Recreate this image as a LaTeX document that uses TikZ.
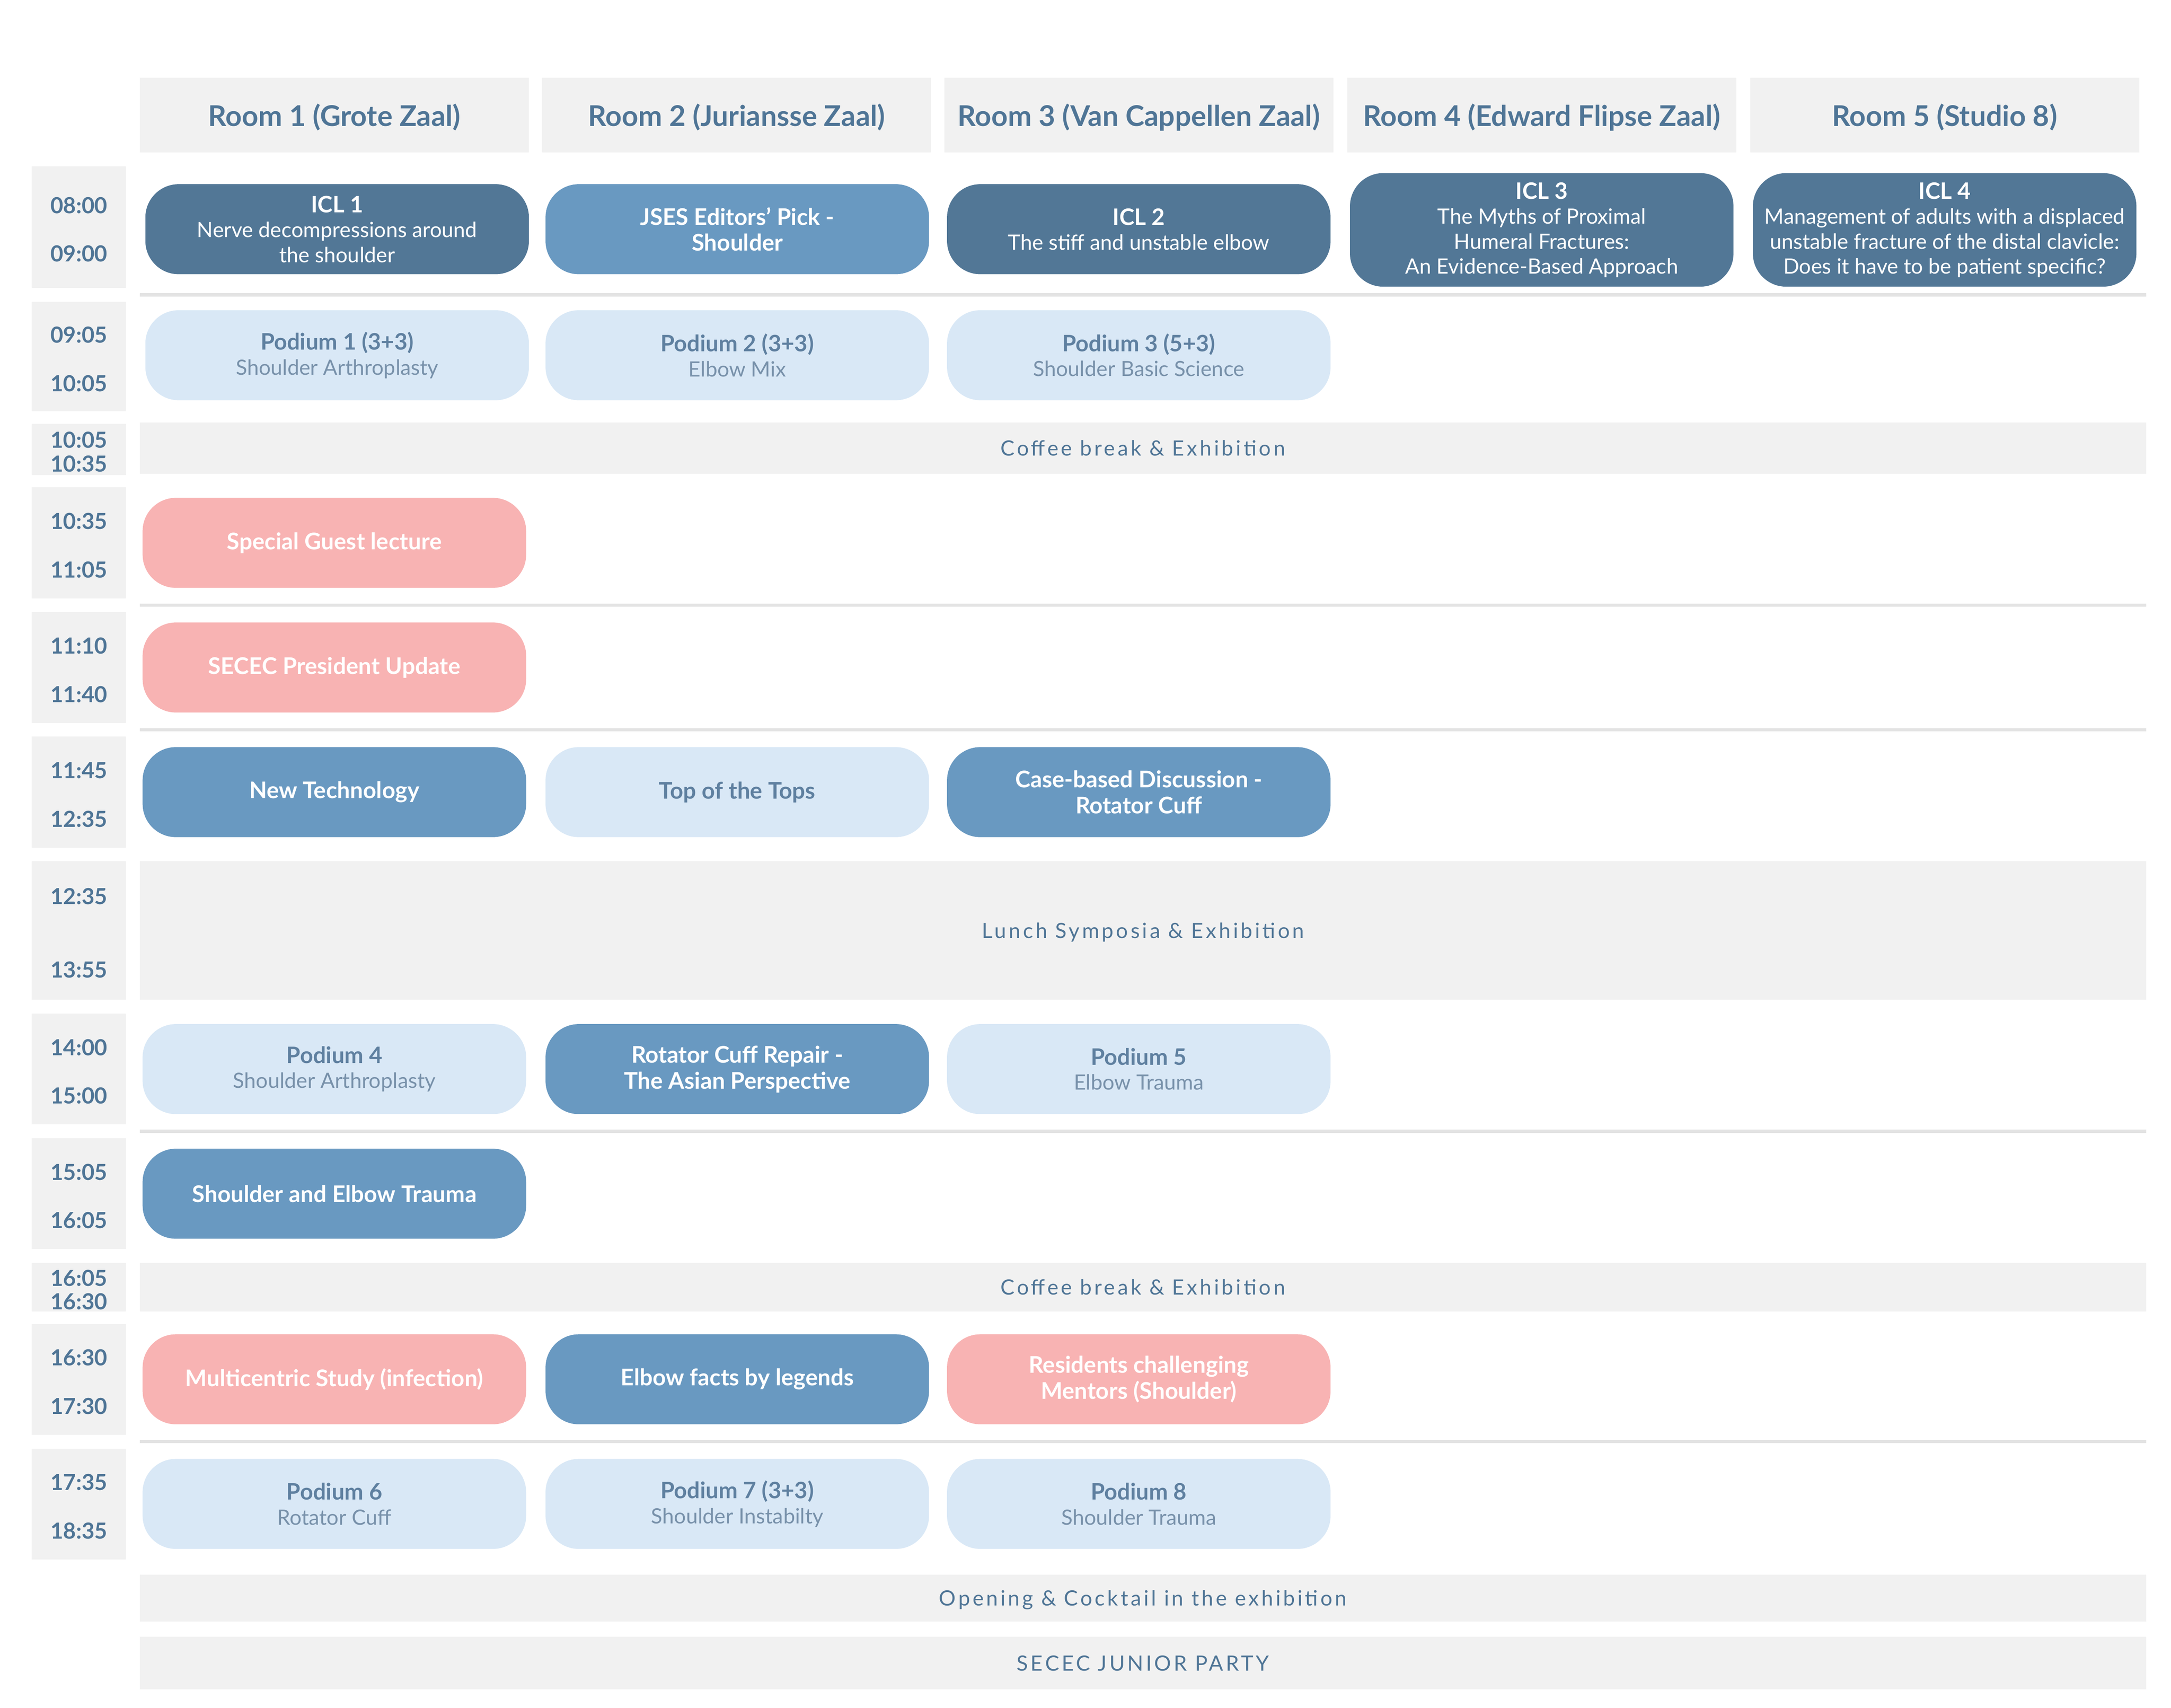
\documentclass[tikz,border=0pt]{standalone}
\usepackage{fontspec}
\setmainfont{Lato}
\newfontfamily\bandfont[LetterSpace=12]{Lato}
\definecolor{hdrgray}{HTML}{F1F1F1}
\definecolor{txtblue}{HTML}{4F7596}
\definecolor{iclblue}{HTML}{527796}
\definecolor{midblue}{HTML}{6999C1}
\definecolor{liteblue}{HTML}{D9E8F6}
\definecolor{litetitle}{HTML}{5F80A0}
\definecolor{litesub}{HTML}{7891AA}
\definecolor{pinkbox}{HTML}{F8B3B3}
\definecolor{sepgray}{HTML}{E3E3E3}
\newcommand\ttl[1]{{\bfseries\fontsize{8.2}{9}\selectfont #1}}
\newcommand\podium[2]{{\color{litetitle}\bfseries\fontsize{8.2}{9}\selectfont #1}\\#2}
\begin{document}
\begin{tikzpicture}[
x=0.5pt, y=-0.5pt,
hdr/.style  = {fill=hdrgray, minimum width=140.5pt, minimum height=27pt, inner sep=0pt,
               text depth=0pt, text=txtblue, font=\bfseries\fontsize{10.3}{12}\selectfont},
tbox/.style = {fill=hdrgray, minimum width=34pt, inner sep=0pt},
tlbl/.style = {inner sep=0pt, text=txtblue, font=\bfseries\fontsize{8}{9}\selectfont},
evt/.style  = {rounded corners=12pt, minimum width=138.5pt, minimum height=32.5pt,
               inner sep=0pt, align=center, font=\fontsize{7.6}{9}\selectfont},
icl/.style  = {evt, fill=iclblue, text=white},
mid/.style  = {evt, fill=midblue, text=white, font=\bfseries\fontsize{8.3}{9.4}\selectfont},
pink/.style = {evt, fill=pinkbox, text=white, font=\bfseries\fontsize{8.3}{9.4}\selectfont},
lite/.style = {evt, fill=liteblue, text=litesub},
band/.style = {fill=hdrgray, minimum width=724.5pt, inner sep=0pt, text depth=0pt,
               text=txtblue, font=\bandfont\fontsize{7.6}{9}\selectfont},
sep/.style  = {draw=sepgray, line width=1.2pt}
                    ]
\fill[white] (0,0) rectangle (1568,1233.3);
%
\foreach \x/\r [count=\i] in {241.5/{Room 1 (Grote Zaal)}, 532/{Room 2 (Juriansse Zaal)},
    822.5/{Room 3 (Van Cappellen Zaal)}, 1113.5/{Room 4 (Edward Flipse Zaal)}, 1404.5/{Room 5 (Studio 8)}}
{
    \node[hdr] (room\i) at (\x,83) {\r};
}
%
\foreach \tp/\bt/\off/\ta/\tb [count=\i] in {120/208/8.75pt/08:00/09:00, 218/297/8.75pt/09:05/10:05,
    306/343/4.25pt/10:05/10:35, 352/432/8.75pt/10:35/11:05, 442/522/8.75pt/11:10/11:40,
    532/612/8.75pt/11:45/12:35, 622/722/13.25pt/12:35/13:55, 732/812/8.75pt/14:00/15:00,
    822/902/8.75pt/15:05/16:05, 912/947/4.25pt/16:05/16:30, 956/1036/8.75pt/16:30/17:30,
    1046/1126/8.75pt/17:35/18:35}
{
    \node[tbox, minimum height={(\bt-\tp)*0.5pt}] (slot\i) at (57,{(\tp+\bt)/2}) {};
    \node[tlbl] (slot\i a) at ([yshift=\off-0.9pt]slot\i.center) {\ta};
    \node[tlbl] (slot\i b) at ([yshift=-\off-0.9pt]slot\i.center) {\tb};
}
%
\foreach \y in {213,437,527,817,1041}
    \draw[sep] (101,\y) -- (1550,\y);
%
\node[icl] (icl1) at (243.5,165.5) {\ttl{ICL 1}\\Nerve decompressions around\\the shoulder};
\node[mid] (jses) at (532.5,165.5) {JSES Editors’ Pick -\\Shoulder};
\node[icl] (icl2) at (822.5,165.5) {\ttl{ICL 2}\\The stiff and unstable elbow};
\node[icl, minimum height=41pt] (icl3) at (1113.5,166) {\ttl{ICL 3}\\The Myths of Proximal\\Humeral Fractures:\\An Evidence-Based Approach};
\node[icl, minimum height=41pt] (icl4) at (1404.5,166) {\ttl{ICL 4}\\Management of adults with a displaced\\unstable fracture of the distal clavicle:\\Does it have to be patient specific?};
%
\node[lite] (pod1) at (243.5,256.5) {\podium{Podium 1 (3+3)}{Shoulder Arthroplasty}};
\node[lite] (pod2) at (532.5,256.5) {\podium{Podium 2 (3+3)}{Elbow Mix}};
\node[lite] (pod3) at (822.5,256.5) {\podium{Podium 3 (5+3)}{Shoulder Basic Science}};
%
\node[band, minimum height=18.5pt] (coffee1) at (825.5,323.5) {Coffee break \& Exhibition};
%
\node[pink] (guest) at (241.5,392) {Special Guest lecture};
\node[pink] (pres) at (241.5,482) {SECEC President Update};
%
\node[mid] (tech) at (241.5,572) {New Technology};
\node[lite, text=litetitle, font=\bfseries\fontsize{8.3}{9.4}\selectfont] (tops) at (532.5,572) {Top of the Tops};
\node[mid] (case) at (822.5,572) {Case-based Discussion -\\Rotator Cuff};
%
\node[band, minimum height=50pt] (lunch) at (825.5,672) {Lunch Symposia \& Exhibition};
%
\node[lite] (pod4) at (241.5,772) {\podium{Podium 4}{Shoulder Arthroplasty}};
\node[mid] (asian) at (532.5,772) {Rotator Cuff Repair -\\The Asian Perspective};
\node[lite] (pod5) at (822.5,772) {\podium{Podium 5}{Elbow Trauma}};
%
\node[mid] (trauma) at (241.5,862) {Shoulder and Elbow Trauma};
%
\node[band, minimum height=17.5pt] (coffee2) at (825.5,929.5) {Coffee break \& Exhibition};
%
\node[pink] (multi) at (241.5,996) {Multicentric Study (infection)};
\node[mid] (legends) at (532.5,996) {Elbow facts by legends};
\node[pink] (mentors) at (822.5,996) {Residents challenging\\Mentors (Shoulder)};
%
\node[lite] (pod6) at (241.5,1086) {\podium{Podium 6}{Rotator Cuff}};
\node[lite] (pod7) at (532.5,1086) {\podium{Podium 7 (3+3)}{Shoulder Instabilty}};
\node[lite] (pod8) at (822.5,1086) {\podium{Podium 8}{Shoulder Trauma}};
%
\node[band, minimum height=17pt] (opening) at (825.5,1154) {Opening \& Cocktail in the exhibition};
\node[band, minimum height=19pt] (party) at (825.5,1201) {SECEC JUNIOR PARTY};

\end{tikzpicture}
\end{document}
